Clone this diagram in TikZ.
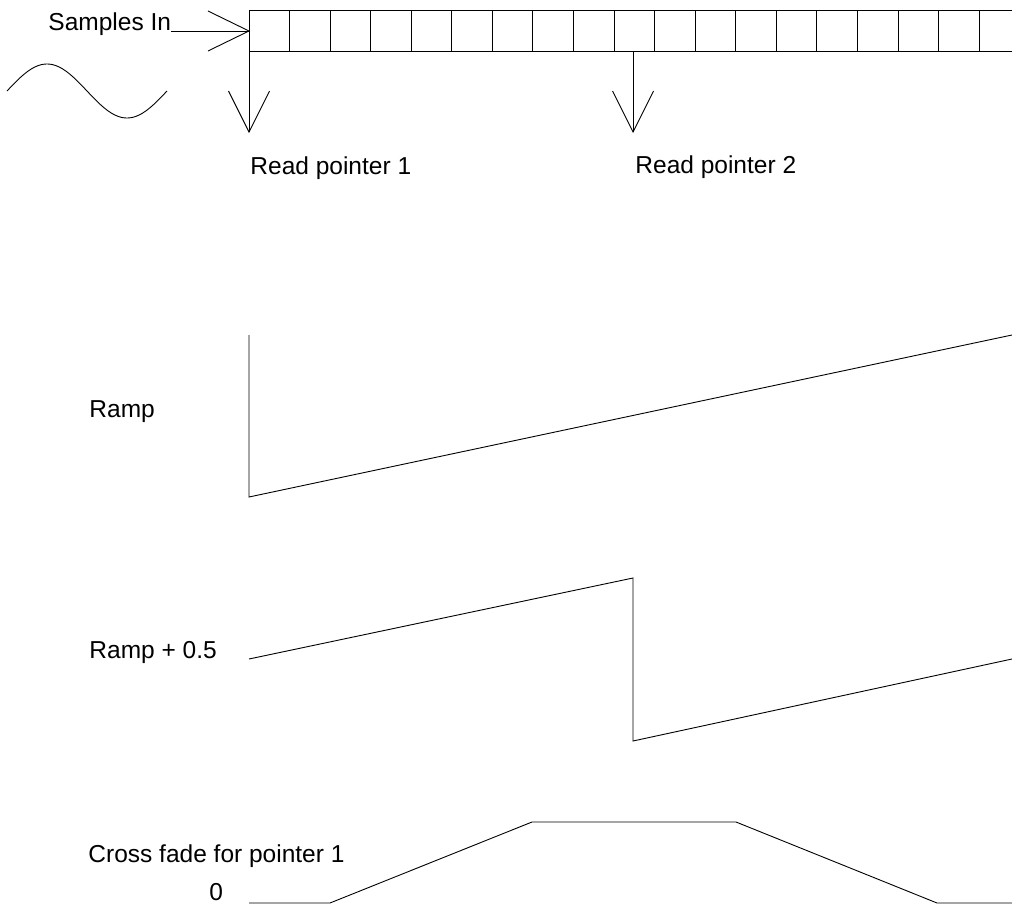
\documentclass[tikz,border=0pt]{standalone}
\usepackage{fontspec}
\setmainfont{Liberation Sans}
\begin{document}
\begin{tikzpicture}[x=1pt, y=-1pt, line width=0.9pt, line join=miter,
  lbl/.style={anchor=base west, inner sep=0pt, font=\fontsize{24.5}{29}\selectfont},
  openv/.style={line join=miter}]
\useasboundingbox (0,0) rectangle (1012,905);

% ---------------- delay buffer ----------------
\coordinate (buftl) at (249,10);
\coordinate (bufbl) at (249,51);
\coordinate (buftr) at (1012,10);
\coordinate (bufbr) at (1012,51);
\draw (buftl) -- (buftr);
\draw (bufbl) -- (bufbr);
\foreach \k in {0,...,18}
  \draw ({249+40.56*\k},10) -- ({249+40.56*\k},51);

% ---------------- input ----------------
\node[lbl] (samples) at (48,30) {Samples In};
\coordinate (bufin) at (249,31);
\draw (samples.base east |- bufin) -- (bufin);
\draw[openv] (bufin) ++(-41,-20) -- (bufin) -- ++(-41,20);

% input waveform: one period, 160 units long
\draw plot[smooth, domain=0:160, samples=81] ({\x+7}, {91-27*sin(2.25*\x)});

% ---------------- read pointers ----------------
\coordinate (rp1) at (249,51);
\coordinate (rp1tip) at (249,132);
\coordinate (rp2) at (633,51);
\coordinate (rp2tip) at (633,132);
\draw (rp1) -- (rp1tip);
\draw[openv] (rp1tip) ++(-20.5,-41) -- (rp1tip) -- ++(20.5,-41);
\draw (rp2) -- (rp2tip);
\draw[openv] (rp2tip) ++(-20.5,-41) -- (rp2tip) -- ++(20.5,-41);
\node[lbl] (rp1lbl) at (250,174) {Read pointer 1};
\node[lbl] (rp2lbl) at (635,173) {Read pointer 2};

% ---------------- ramp ----------------
\node[lbl] (ramplbl) at (89,417) {Ramp};
\coordinate (r0) at (249,335);
\coordinate (r1) at (249,497);
\coordinate (r2) at (1012,335);
\draw (r0) -- (r1) -- (r2);

% ---------------- ramp + 0.5 ----------------
\node[lbl] (ramphlbl) at (89,658) {Ramp + 0.5};
\coordinate (h0) at (249,659);
\coordinate (h1) at (633,578);
\coordinate (h2) at (633,741);
\coordinate (h3) at (1012,659);
\draw (h0) -- (h1) -- (h2) -- (h3);

% ---------------- cross fade ----------------
\node[lbl] (xflbl) at (88,862) {Cross fade for pointer 1};
\node[lbl] (zero) at (209,900) {0};
\coordinate (c0) at (249,903);
\coordinate (c1) at (330,903);
\coordinate (c2) at (532,822);
\coordinate (c3) at (736,822);
\coordinate (c4) at (937,903);
\coordinate (c5) at (1012,903);
\draw (c0) -- (c1) -- (c2) -- (c3) -- (c4) -- (c5);
\end{tikzpicture}
\end{document}
